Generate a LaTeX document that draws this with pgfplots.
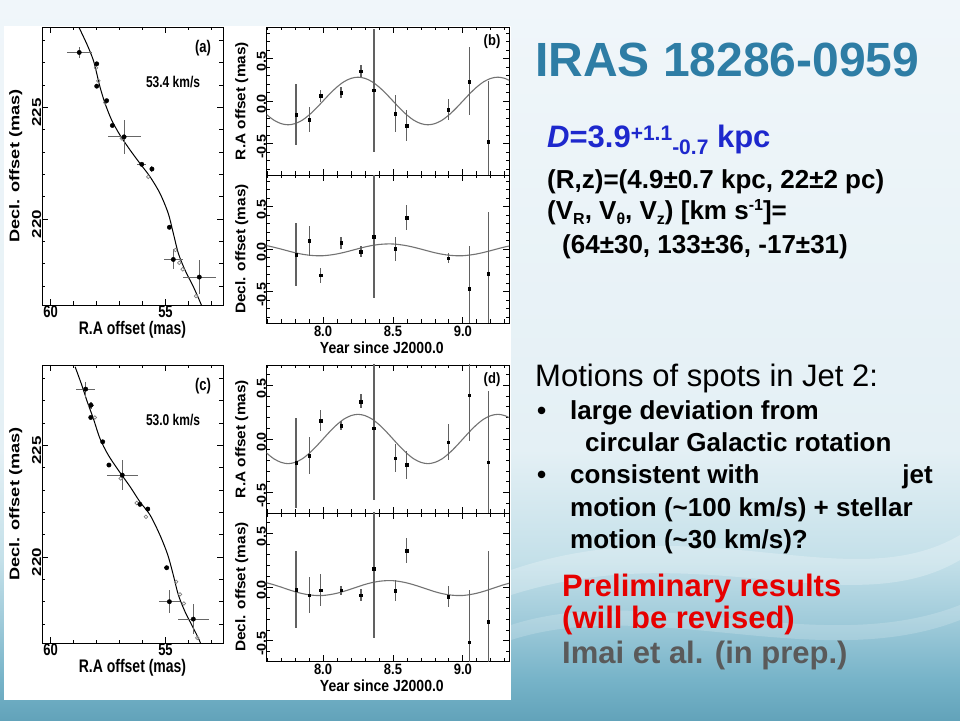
\documentclass[border=0pt]{standalone}
\usepackage{graphicx}
\usepackage{pgfplots}
\pgfplotsset{compat=1.18}
\usepackage{fontspec}
\setmainfont{Liberation Sans}
\definecolor{bg0}{RGB}{240,246,250}
\definecolor{bg1}{RGB}{228,240,245}
\definecolor{bg2}{RGB}{196,224,233}
\definecolor{bg3}{RGB}{160,203,218}
\definecolor{bg4}{RGB}{118,179,200}
\definecolor{bg5}{RGB}{98,163,186}
\definecolor{titleblue}{RGB}{46,125,165}
\definecolor{dblue}{RGB}{30,40,205}
\definecolor{prelred}{RGB}{230,0,0}
\definecolor{refgray}{RGB}{90,90,90}
\pgfdeclareverticalshading{bgshade}{100bp}{color(0bp)=(bg5); color(25bp)=(bg5); color(27.78bp)=(bg4); color(31.94bp)=(bg3); color(36.11bp)=(bg2); color(43.75bp)=(bg1); color(75bp)=(bg0); color(100bp)=(bg0)}
\newcommand{\lo}[2][-5pt]{\raisebox{#1}{\fontsize{16}{16}\selectfont #2}}
\newcommand{\hi}[2][9pt]{\raisebox{#1}{\fontsize{16}{16}\selectfont #2}}
% stretched text (the figure in the slide is stretched vertically)
\newcommand{\vsA}[1]{\scalebox{1}[1.3]{#1}}
\newcommand{\lsA}[1]{\scalebox{1.3}[1]{#1}}
\newcommand{\vsB}[1]{\scalebox{1}[1.15]{#1}}
\newcommand{\lsB}[1]{\scalebox{1.1}[1]{#1}}
\pgfplotsset{
  fig/.style={
    scale only axis, anchor=north west,
    axis line style={black, line width=0.9pt},
    tick style={black, line width=0.8pt},
    major tick length=6pt, minor tick length=3.5pt,
    tick align=inside,
    tick label style={font=\fontsize{12}{12}\selectfont\bfseries, inner sep=0.5pt},
    label style={font=\fontsize{14}{14}\selectfont\bfseries, inner sep=0.5pt},
    yticklabel style={rotate=90, anchor=south},
    clip=true,
  },
  resid/.style={
    xmin=7.597, xmax=9.33,
    xtick={8,8.5,9},
    minor xtick={7.6,7.7,7.8,7.9,8.1,8.2,8.3,8.4,8.6,8.7,8.8,8.9,9.1,9.2,9.3},
    ytick={-0.5,0,0.5}, yticklabels={\lsB{-0.5},\lsB{0.0},\lsB{0.5}},
    tick label style={font=\fontsize{13}{13}\selectfont\bfseries},
    yticklabel style={xshift=-3pt},
    xticklabel style={inner sep=2.5pt},
    xlabel shift=2pt,
    ylabel style={at={(axis description cs:-0.073,0.5)}, anchor=south},
  },
  fitline/.style={gray!90!black, line width=1.1pt, smooth},
  resmark/.style={only marks, mark=square*, mark size=1.3pt, black,
    error bars/.cd, y dir=both, y explicit, error mark=none,
    error bar style={line width=1.2pt, black!62}},
  posmark/.style={only marks, mark=*, mark size=2.2pt, black,
    error bars/.cd, x dir=both, x explicit, y dir=both, y explicit, error mark=none,
    error bar style={line width=1.1pt, black!60}},
  modmark/.style={only marks, mark=o, mark size=1.8pt, black!50, mark options={line width=0.7pt}},
  pos/.style={
    x dir=reverse, xmin=52.5, xmax=60.37, ymin=216.15, ymax=228.6,
    xtick={55,60}, xticklabels={\vsA{55},\vsA{60}}, minor xtick={53,54,56,57,58,59},
    ytick={220,225}, yticklabels={\lsA{220},\lsA{225}},
    minor ytick={217,218,219,221,222,223,224,226,227,228},
    tick label style={font=\fontsize{13}{13}\selectfont\bfseries},
    yticklabel style={xshift=-5pt},
    ylabel style={at={(axis description cs:-0.105,0.5)}, anchor=south},
    xlabel shift=2.5pt,
    xlabel={\vsA{R.A offset (mas)}}, ylabel={\lsA{Decl. offset (mas)}},
  },
}
\begin{document}
\begin{tikzpicture}[x=1pt,y=1pt]
\useasboundingbox (0,0) rectangle (960,720);
\shade[shading=bgshade] (0,0) rectangle (960,720);
\fill[white, opacity=0.25] (511,150) .. controls (700,215) and (850,120) .. (960,185) -- (960,160) .. controls (850,95) and (700,185) .. (511,125) -- cycle;
\fill[white, opacity=0.18] (511,95) .. controls (650,140) and (820,60) .. (960,115) -- (960,100) .. controls (820,45) and (650,125) .. (511,80) -- cycle;
\fill[white] (4,20) rectangle (511,694);

% ---------- (a) ----------
\begin{axis}[fig, pos, at={(42pt,693pt)}, width=181pt, height=278pt]
\addplot[black, line width=1pt, smooth, tension=0.5] coordinates {
(58.76,228.58) (58.40,227.79) (58.14,227.12) (57.99,226.52) (57.85,225.92)
(57.63,225.18) (57.34,224.43) (56.98,223.76) (56.54,223.09) (56.11,222.49)
(55.67,221.89) (55.24,221.15) (54.88,220.25) (54.66,219.36) (54.44,218.46)
(54.15,217.71) (53.79,216.97) (53.53,216.37) (53.40,216.05)};
\addplot[modmark] coordinates {
(58.02,226.77) (57.92,226.19) (57.62,225.21) (56.90,223.61) (55.75,221.89)
(54.57,218.61) (54.40,218.04) (54.25,217.75) (53.67,216.55)};
\addplot[posmark] coordinates {
(58.75,227.46) +- (0.54,0.26)
(57.99,226.95) +- (0.12,0.10)
(57.99,225.95) +- (0.05,0.05)
(57.56,225.30) +- (0.05,0.05)
(57.31,224.19) +- (0.05,0.05)
(56.80,223.68) +- (0.72,0.75)
(56.03,222.45) +- (0.20,0.05)
(55.59,222.24) +- (0.10,0.12)
(54.83,219.63) +- (0.05,0.05)
(54.66,218.19) +- (0.40,0.45)
(53.53,217.40) +- (0.72,0.75)};
\node[font=\fontsize{13}{13}\selectfont\bfseries] at (axis description cs:0.89,0.924) {\vsA{(a)}};
\node[font=\fontsize{12}{12}\selectfont\bfseries] at (axis description cs:0.724,0.802) {\vsA{53.4 km/s}};
\end{axis}

% ---------- (b) top ----------
\begin{axis}[fig, resid, at={(266.7pt,693pt)}, width=242.3pt, height=148pt,
  ymin=-0.87, ymax=0.87, xticklabels={},
  minor ytick={-0.8,-0.7,-0.6,-0.4,-0.3,-0.2,-0.1,0.1,0.2,0.3,0.4,0.6,0.7,0.8},
  ylabel={\lsB{R.A offset (mas)}}]
\addplot[fitline] coordinates {
(7.55,-0.087) (7.60,-0.165) (7.65,-0.227) (7.70,-0.266) (7.75,-0.28) (7.80,-0.266)
(7.85,-0.227) (7.90,-0.165) (7.95,-0.087) (8.00,0) (8.05,0.087) (8.10,0.165)
(8.15,0.227) (8.20,0.266) (8.25,0.28) (8.30,0.266) (8.35,0.227) (8.40,0.165)
(8.45,0.087) (8.50,0) (8.55,-0.087) (8.60,-0.165) (8.65,-0.227) (8.70,-0.266)
(8.75,-0.28) (8.80,-0.266) (8.85,-0.227) (8.90,-0.165) (8.95,-0.087) (9.00,0)
(9.05,0.087) (9.10,0.165) (9.15,0.227) (9.20,0.266) (9.25,0.28) (9.30,0.266) (9.35,0.227)};
\addplot[resmark] coordinates {
(7.807,-0.16) +- (0,0.36)
(7.902,-0.22) +- (0,0.15)
(7.984,0.06) +- (0,0.07)
(8.129,0.10) +- (0,0.07)
(8.271,0.35) +- (0,0.07)
(8.364,0.125) +- (0,0.72)
(8.516,-0.15) +- (0,0.22)
(8.598,-0.29) +- (0,0.18)
(8.895,-0.10) +- (0,0.12)
(9.045,0.23) +- (0,0.40)
(9.181,-0.48) +- (0,0.71)};
\node[font=\fontsize{13}{13}\selectfont\bfseries] at (axis description cs:0.93,0.9) {\vsB{(b)}};
\end{axis}

% ---------- (b) bottom ----------
\begin{axis}[fig, resid, at={(266.7pt,545pt)}, width=242.3pt, height=148pt,
  ymin=-0.87, ymax=0.87, xticklabels={\vsB{8.0},\vsB{8.5},\vsB{9.0}},
  minor ytick={-0.8,-0.7,-0.6,-0.4,-0.3,-0.2,-0.1,0.1,0.2,0.3,0.4,0.6,0.7,0.8},
  xlabel={\vsB{Year since J2000.0}}, ylabel={\lsB{Decl. offset (mas)}},
  xlabel style={xshift=-6pt}]
\addplot[fitline] coordinates {
(7.55,0.051) (7.60,0.038) (7.65,0.020) (7.70,-0.001) (7.75,-0.023) (7.80,-0.044)
(7.85,-0.061) (7.90,-0.073) (7.95,-0.079) (8.00,-0.079) (8.05,-0.071) (8.10,-0.058)
(8.15,-0.040) (8.20,-0.019) (8.25,0.003) (8.30,0.024) (8.35,0.041) (8.40,0.053)
(8.45,0.059) (8.50,0.059) (8.55,0.051) (8.60,0.038) (8.65,0.020) (8.70,-0.001)
(8.75,-0.023) (8.80,-0.044) (8.85,-0.061) (8.90,-0.073) (8.95,-0.079) (9.00,-0.079)
(9.05,-0.071) (9.10,-0.058) (9.15,-0.040) (9.20,-0.019) (9.25,0.003) (9.30,0.024) (9.35,0.041)};
\addplot[resmark] coordinates {
(7.807,-0.07) +- (0,0.37)
(7.902,0.095) +- (0,0.18)
(7.984,-0.31) +- (0,0.09)
(8.129,0.075) +- (0,0.07)
(8.271,-0.03) +- (0,0.06)
(8.364,0.145) +- (0,0.72)
(8.516,0.0) +- (0,0.14)
(8.598,0.37) +- (0,0.15)
(8.895,-0.11) +- (0,0.06)
(9.045,-0.465) +- (0,0.50)
(9.181,-0.29) +- (0,0.73)};
\end{axis}

% ---------- (c) ----------
\begin{axis}[fig, pos, at={(42pt,355pt)}, width=181pt, height=278pt]
\addplot[black, line width=1pt, smooth, tension=0.5] coordinates {
(58.93,228.52) (58.64,227.70) (58.40,226.95) (58.14,226.21) (57.85,225.31)
(57.49,224.57) (57.05,223.89) (56.54,223.15) (56.11,222.47) (55.67,221.88)
(55.24,220.98) (54.90,220.09) (54.66,219.19) (54.44,218.30) (54.15,217.55)
(53.82,216.88) (53.53,216.28) (53.45,216.05)};
\addplot[modmark] coordinates {
(58.07,226.25) (56.95,223.52) (56.25,222.42) (55.85,221.80)
(54.54,218.89) (54.37,218.33) (54.20,217.92) (53.62,216.38)};
\addplot[posmark] coordinates {
(58.47,227.52) +- (0.40,0.34)
(58.24,226.80) +- (0.15,0.15)
(58.25,226.25) +- (0.08,0.05)
(57.73,225.16) +- (0.05,0.05)
(57.46,224.12) +- (0.05,0.05)
(56.88,223.67) +- (0.67,0.69)
(56.11,222.36) +- (0.12,0.05)
(55.77,222.15) +- (0.08,0.10)
(54.95,219.52) +- (0.12,0.05)
(54.83,218.00) +- (0.45,0.52)
(53.79,217.22) +- (0.67,0.67)};
\node[font=\fontsize{13}{13}\selectfont\bfseries] at (axis description cs:0.89,0.924) {\vsA{(c)}};
\node[font=\fontsize{12}{12}\selectfont\bfseries] at (axis description cs:0.724,0.802) {\vsA{53.0 km/s}};
\end{axis}

% ---------- (d) top ----------
\begin{axis}[fig, resid, at={(266.7pt,355pt)}, width=242.3pt, height=148pt,
  ymin=-0.69, ymax=0.69, xticklabels={},
  minor ytick={-0.6,-0.4,-0.3,-0.2,-0.1,0.1,0.2,0.3,0.4,0.6},
  ylabel={\lsB{R.A offset (mas)}}]
\addplot[fitline] coordinates {
(7.55,-0.071) (7.60,-0.135) (7.65,-0.186) (7.70,-0.218) (7.75,-0.23) (7.80,-0.218)
(7.85,-0.186) (7.90,-0.135) (7.95,-0.071) (8.00,0) (8.05,0.071) (8.10,0.135)
(8.15,0.186) (8.20,0.218) (8.25,0.23) (8.30,0.218) (8.35,0.186) (8.40,0.135)
(8.45,0.071) (8.50,0) (8.55,-0.071) (8.60,-0.135) (8.65,-0.186) (8.70,-0.218)
(8.75,-0.23) (8.80,-0.218) (8.85,-0.186) (8.90,-0.135) (8.95,-0.071) (9.00,0)
(9.05,0.071) (9.10,0.135) (9.15,0.186) (9.20,0.218) (9.25,0.23) (9.30,0.218) (9.35,0.186)};
\addplot[resmark] coordinates {
(7.807,-0.22) +- (0,0.42)
(7.902,-0.155) +- (0,0.17)
(7.984,0.17) +- (0,0.10)
(8.129,0.125) +- (0,0.04)
(8.271,0.35) +- (0,0.065)
(8.364,0.10) +- (0,0.67)
(8.516,-0.18) +- (0,0.13)
(8.598,-0.24) +- (0,0.13)
(8.895,-0.03) +- (0,0.17)
(9.045,0.41) +- (0,0.43)
(9.181,-0.215) +- (0,0.66)};
\node[font=\fontsize{13}{13}\selectfont\bfseries] at (axis description cs:0.93,0.9) {\vsB{(d)}};
\end{axis}

% ---------- (d) bottom ----------
\begin{axis}[fig, resid, at={(266.7pt,207pt)}, width=242.3pt, height=148pt,
  ymin=-0.69, ymax=0.69, xticklabels={\vsB{8.0},\vsB{8.5},\vsB{9.0}},
  minor ytick={-0.6,-0.4,-0.3,-0.2,-0.1,0.1,0.2,0.3,0.4,0.6},
  xlabel={\vsB{Year since J2000.0}}, ylabel={\lsB{Decl. offset (mas)}},
  xlabel style={xshift=-6pt}]
\addplot[fitline] coordinates {
(7.55,0.051) (7.60,0.038) (7.65,0.020) (7.70,-0.001) (7.75,-0.023) (7.80,-0.044)
(7.85,-0.061) (7.90,-0.073) (7.95,-0.079) (8.00,-0.079) (8.05,-0.071) (8.10,-0.058)
(8.15,-0.040) (8.20,-0.019) (8.25,0.003) (8.30,0.024) (8.35,0.041) (8.40,0.053)
(8.45,0.059) (8.50,0.059) (8.55,0.051) (8.60,0.038) (8.65,0.020) (8.70,-0.001)
(8.75,-0.023) (8.80,-0.044) (8.85,-0.061) (8.90,-0.073) (8.95,-0.079) (9.00,-0.079)
(9.05,-0.071) (9.10,-0.058) (9.15,-0.040) (9.20,-0.019) (9.25,0.003) (9.30,0.024) (9.35,0.041)};
\addplot[resmark] coordinates {
(7.807,-0.025) +- (0,0.36)
(7.902,-0.075) +- (0,0.17)
(7.984,-0.03) +- (0,0.15)
(8.129,-0.03) +- (0,0.04)
(8.271,-0.075) +- (0,0.06)
(8.364,0.17) +- (0,0.65)
(8.516,-0.035) +- (0,0.10)
(8.598,0.34) +- (0,0.12)
(8.895,-0.09) +- (0,0.10)
(9.045,-0.515) +- (0,0.49)
(9.181,-0.325) +- (0,0.66)};
\end{axis}

% ---------- slide text ----------
\node[anchor=base west, inner sep=0, text=titleblue, font=\fontsize{48}{50}\selectfont\bfseries] at (535,643) {IRAS 18286-0959};
\node[anchor=base west, inner sep=0, text=dblue, font=\fontsize{31}{33}\selectfont\bfseries] at (547,572)
  {\textit{D}=3.9\raisebox{7pt}{\fontsize{21}{21}\selectfont +1.1}\raisebox{-7pt}{\fontsize{21}{21}\selectfont -0.7} kpc};
\node[anchor=base west, inner sep=0, font=\fontsize{26}{28}\selectfont\bfseries] at (547,531.7) {(R,z)=(4.9±0.7 kpc, 22±2 pc)};
\node[anchor=base west, inner sep=0, font=\fontsize{26}{28}\selectfont\bfseries] at (547,500)
  {(V\lo{R}, V\lo{θ}, V\lo{z}) [km s\hi{-1}]=};
\node[anchor=base west, inner sep=0, font=\fontsize{26}{28}\selectfont\bfseries] at (562,466.7) {(64±30, 133±36, -17±31)};

\node[anchor=base west, inner sep=0, font=\fontsize{31}{33}\selectfont] at (535,333.3) {Motions of spots in Jet 2:};
\begin{scope}[every node/.style={anchor=base west, inner sep=0, font=\fontsize{26}{28}\selectfont\bfseries}]
\node at (537,300) {•};
\node at (570,300) {large deviation from};
\node at (585,268.3) {circular Galactic rotation};
\node at (537,236.7) {•};
\node at (570,236.7) {consistent with};
\node[anchor=base east] at (933,236.7) {jet};
\node at (570,203.3) {motion (\textasciitilde 100 km/s) + stellar};
\node at (570,171.7) {motion (\textasciitilde 30 km/s)?};
\end{scope}
\begin{scope}[every node/.style={anchor=base west, inner sep=0, font=\fontsize{31}{33}\selectfont\bfseries}]
\node[text=prelred] at (562,123.3) {Preliminary results};
\node[text=prelred] at (562,91.7) {(will be revised)};
\node[text=refgray] at (562,56.7) {Imai et al. (in prep.)};
\end{scope}
\end{tikzpicture}
\end{document}
